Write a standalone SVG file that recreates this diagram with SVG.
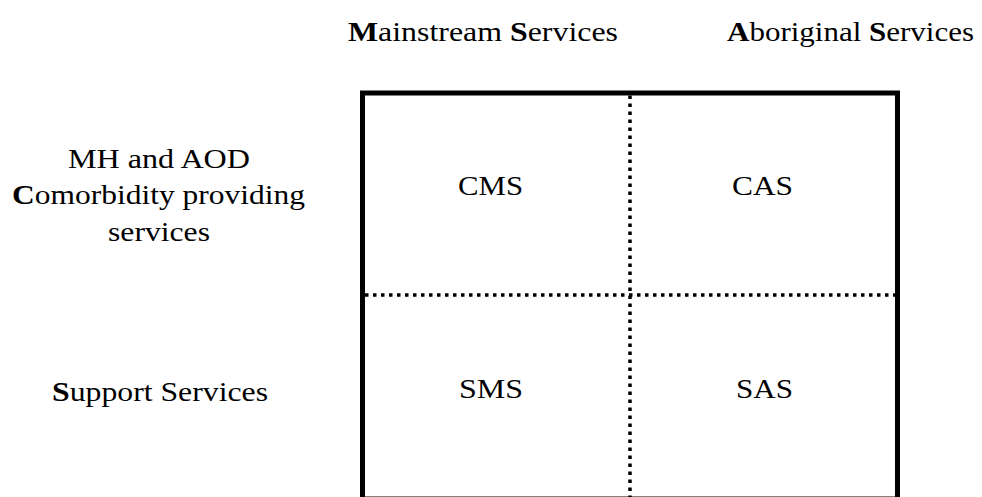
<svg xmlns="http://www.w3.org/2000/svg" width="982" height="497" viewBox="0 0 982 497">
  <style>
    text { font-family: "Liberation Serif", "Times New Roman", serif; font-size: 28px; fill: #000; }
    .b { font-weight: bold; }
    .frame { fill: none; stroke: #000; stroke-width: 5; }
    .divider { fill: none; stroke: #000; stroke-width: 3.5; stroke-dasharray: 3.5 4.5; }
  </style>
  <rect width="982" height="497" fill="#fff"/>

  <!-- column headings -->
  <g id="col-mainstream">
    <text x="348" y="41" textLength="270" lengthAdjust="spacingAndGlyphs"><tspan class="b">M</tspan>ainstream <tspan class="b">S</tspan>ervices</text>
  </g>
  <g id="col-aboriginal">
    <text x="727" y="41" textLength="247" lengthAdjust="spacingAndGlyphs"><tspan class="b">A</tspan>boriginal <tspan class="b">S</tspan>ervices</text>
  </g>

  <!-- row headings -->
  <g id="row-comorbidity">
    <text x="68" y="168" textLength="182" lengthAdjust="spacingAndGlyphs">MH and AOD</text>
    <text x="12" y="204" textLength="293" lengthAdjust="spacingAndGlyphs"><tspan class="b">C</tspan>omorbidity providing</text>
    <text x="108" y="241" textLength="102" lengthAdjust="spacingAndGlyphs">services</text>
  </g>
  <g id="row-support">
    <text x="52" y="401" textLength="216" lengthAdjust="spacingAndGlyphs"><tspan class="b">S</tspan>upport Services</text>
  </g>

  <!-- matrix frame and dividers -->
  <g id="grid">
    <rect class="frame" x="362.5" y="93" width="535" height="406"/>
    <line class="divider" x1="630" y1="95.5" x2="630" y2="497"/>
    <line class="divider" x1="365" y1="295" x2="895" y2="295"/>
  </g>

  <!-- cells -->
  <g id="cell-cms"><text x="458" y="195" textLength="65" lengthAdjust="spacingAndGlyphs">CMS</text></g>
  <g id="cell-cas"><text x="732" y="195" textLength="61" lengthAdjust="spacingAndGlyphs">CAS</text></g>
  <g id="cell-sms"><text x="459" y="398" textLength="64" lengthAdjust="spacingAndGlyphs">SMS</text></g>
  <g id="cell-sas"><text x="736" y="398" textLength="57" lengthAdjust="spacingAndGlyphs">SAS</text></g>
</svg>
